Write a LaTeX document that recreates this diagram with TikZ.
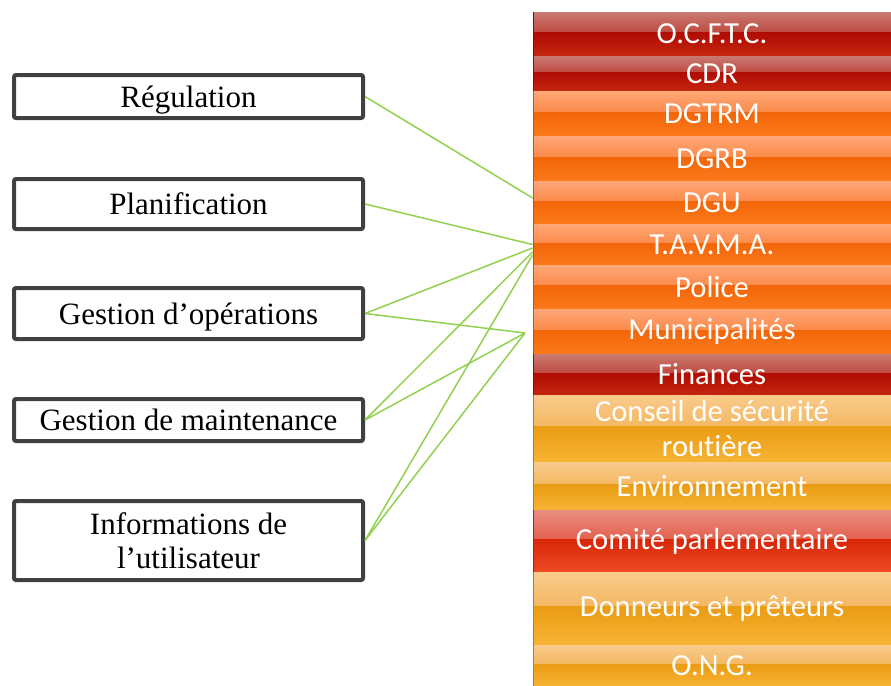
\documentclass[tikz,border=0pt]{standalone}
\usepackage{fontspec}
\setmainfont{Liberation Serif}
\newfontfamily\barfont[Ligatures=NoCommon]{Carlito}
\usetikzlibrary{positioning}
\definecolor{boxgray}{HTML}{404040}
\definecolor{linkgreen}{HTML}{92D050}
% gloss colours of the bars: top, mid, base, low
\definecolor{dredtop}{HTML}{C97A72}
\definecolor{dredmid}{HTML}{BE4A40}
\definecolor{dredbase}{HTML}{B00C04}
\definecolor{dredlow}{HTML}{C4260E}
\definecolor{orngtop}{HTML}{FFA878}
\definecolor{orngmid}{HTML}{FB8A4A}
\definecolor{orngbase}{HTML}{F26508}
\definecolor{ornglow}{HTML}{FB7A1C}
\definecolor{ambrtop}{HTML}{F9CB8C}
\definecolor{ambrmid}{HTML}{F4B862}
\definecolor{ambrbase}{HTML}{EA9C14}
\definecolor{ambrlow}{HTML}{F8B434}
\definecolor{lredtop}{HTML}{EA8E82}
\definecolor{lredmid}{HTML}{E2604E}
\definecolor{lredbase}{HTML}{D82608}
\definecolor{lredlow}{HTML}{EE4A24}
\tikzset{
  rolebox/.style={draw=boxgray,fill=white,line width=2pt,rounded corners=1pt,align=center,inner sep=0pt,minimum width=174.5pt,font=\fontsize{15.5}{17}\selectfont},
  oneline/.style={text depth=0pt},
  bartext/.style={align=center,inner sep=0pt,minimum width=179pt,text=white,font=\barfont\fontsize{15.3}{17.5}\selectfont},
  link/.style={linkgreen,line width=0.75pt}
}

\begin{document}
\begin{tikzpicture}[x=0.5pt,y=-0.5pt]
  \useasboundingbox (0,0) rectangle (891,686);
  % actors on the right
  \foreach \ya/\yb/\nm/\kind/\txt in {
      12/56/ocftc/dred/{O.C.F.T.C.},
      56/91/cdr/dred/{CDR},
      91/136/dgtrm/orng/{DGTRM},
      136/181/dgrb/orng/{DGRB},
      181/224/dgu/orng/{DGU},
      224/265/tavma/orng/{T.A.V.M.A.},
      265/309/police/orng/{Police},
      309/354/munic/orng/{Municipalités},
      354/395/finances/dred/{Finances},
      395/462/conseil/ambr/{Conseil de sécurité\\routière},
      462/510/env/ambr/{Environnement},
      510/572/comite/lred/{Comité parlementaire},
      572/645/donneurs/ambr/{Donneurs et prêteurs},
      645/686/ong/ambr/{O.N.G.}} {
    \pgfmathsetmacro{\ym}{\ya+0.47*(\yb-\ya)}
    \pgfmathsetmacro{\yc}{(\ya+\yb)/2}
    \pgfmathsetmacro{\h}{(\yb-\ya)*0.5}
    \shade[top color=\kind top,bottom color=\kind mid] (533,\ya) rectangle (891,\ym);
    \shade[top color=\kind base,bottom color=\kind low] (533,\ym) rectangle (891,\yb);
    \draw[\kind base!80!black,line width=0.4pt] (533,\ya) -- (533,\yb);
    \node[bartext,minimum height=\h pt] (\nm) at (712,\yc) {\txt};
  }
  % functions on the left
  \node[rolebox,oneline,minimum height=21.5pt] (reg) at (188.5,96.5) {Régulation};
  \node[rolebox,oneline,minimum height=25pt] (plan) at (188.5,204) {Planification};
  \node[rolebox,oneline,minimum height=25.5pt] (oper) at (188.5,313.5) {Gestion d’opérations};
  \node[rolebox,oneline,minimum height=21pt] (maint) at (188.5,420) {Gestion de maintenance};
  \node[rolebox,minimum height=39.5pt] (info) at (188.5,540.5) {Informations de\\l’utilisateur};
  \coordinate (hub) at (525,333);
  \draw[link] (reg.east) -- ([yshift=2.25pt]dgu.west);
  \draw[link] (plan.east) -- (tavma.west);
  \draw[link] (oper.east) -- ([yshift=-1.75pt]tavma.west);
  \draw[link] (oper.east) -- (hub);
  \draw[link] (maint.east) -- ([yshift=-3.75pt]tavma.west);
  \draw[link] (maint.east) -- (hub);
  \draw[link] (info.east) -- ([yshift=-5.25pt]tavma.west);
  \draw[link] (info.east) -- (hub);
\end{tikzpicture}
\end{document}
